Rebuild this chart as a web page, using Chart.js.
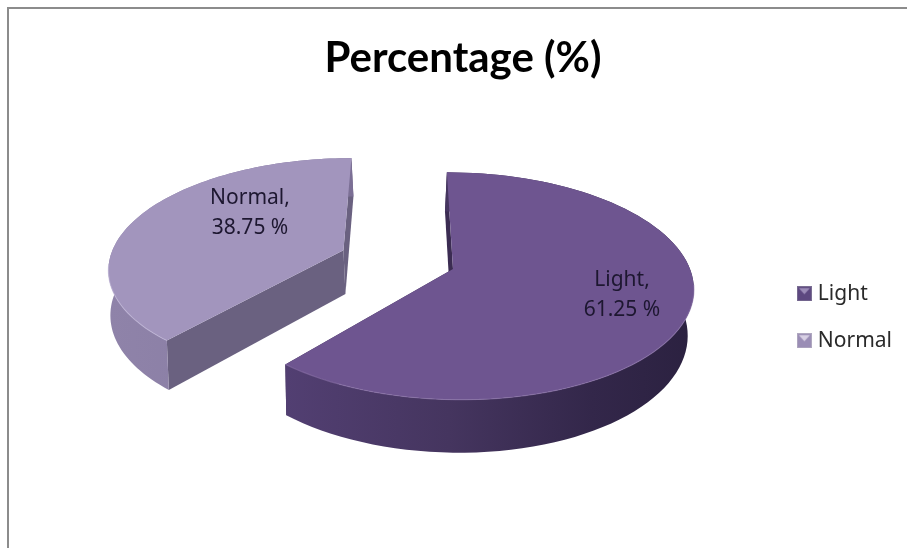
<!DOCTYPE html>
<html>
<head>
<meta charset="utf-8">
<title>Percentage (%)</title>
<script src="https://cdn.jsdelivr.net/npm/chart.js@4/dist/chart.umd.min.js"></script>
<style>
  html, body { margin: 0; background: #fff; overflow: hidden; }
  #frame { position: absolute; left: 7px; top: 7px; width: 900px; height: 541px;
           border-top: 2px solid #8c8c8c; border-left: 2px solid #8c8c8c; box-sizing: border-box; }
  #wrap { position: absolute; left: 0; top: 0; width: 907px; height: 548px; }
</style>
</head>
<body>
<div id="frame"></div>
<div id="wrap"><canvas id="pieChart"></canvas></div>
<script>
const categories = ['Light', 'Normal'];
const percentages = [61.25, 38.75];
const explode = [0, 0.5];
const topColors = ['#6e5590', '#a295bd'];
const labelColor = '#1d1730';

// ground-plane camera for the tilted pie
const view = { vx: 406, vy: -472, horizon: 741, tilt: 0.15, shift: 47, radius: 237, depth: 45 };

// where each data label sits on its slice, in pie radii from the slice centre
const labelSpots = [[0.683, 0.22], [-0.442, -0.38]];

// the side walls lean a little as they drop
const lean = [{ towards: 340, rate: 0.0175, nudge: 0 }, { towards: 0, rate: 0, nudge: 2 }];

const sideStyles = [
  { wall: [[0, '#523f72'], [0.4, '#45355f'], [0.75, '#33274a'], [1, '#2b2140']], cut: '#3b2c52', rim: '#8a72a8' },
  { wall: [[0, '#8f83a9'], [0.5, '#8a7ea5'], [1, '#7b6f95']], cut: '#6a6180', rim: '#c2b7d8' }
];

function project(X, Z) {
  const m = 1 / (1 - view.tilt * Z);
  return [view.vx + (view.shift + view.radius * X) * m, view.vy + view.horizon * m, m];
}

function dropped(p, i) {
  const l = lean[i];
  return [p[0] + (l.towards - p[0]) * l.rate + l.nudge, p[1] + view.depth * p[2]];
}

function tracePoly(ctx, pts) {
  ctx.beginPath();
  pts.forEach((p, i) => i ? ctx.lineTo(p[0], p[1]) : ctx.moveTo(p[0], p[1]));
  ctx.closePath();
}

function drawSlice(ctx, arc, i) {
  const { startAngle, endAngle } = arc.getProps(['startAngle', 'endAngle']);
  const mid = (startAngle + endAngle) / 2;
  const ox = Math.cos(mid) * explode[i];
  const oz = Math.sin(mid) * explode[i];
  const style = sideStyles[i];

  const steps = 90;
  const rimPts = [];
  for (let s = 0; s <= steps; s++) {
    const a = startAngle + (endAngle - startAngle) * s / steps;
    rimPts.push([ox + Math.cos(a), oz + Math.sin(a)]);
  }
  const top = rimPts.map(p => project(p[0], p[1]));
  const bottom = top.map(p => dropped(p, i));
  const centreTop = project(ox, oz);
  const centreBottom = dropped(centreTop, i);

  // two cut faces
  ctx.fillStyle = style.cut;
  tracePoly(ctx, [centreTop, top[0], bottom[0], centreBottom]);
  ctx.fill();
  tracePoly(ctx, [centreTop, top[steps], bottom[steps], centreBottom]);
  ctx.fill();

  // outer wall
  const xs = top.map(p => p[0]);
  const minX = Math.min(...xs), maxX = Math.max(...xs);
  const grad = ctx.createLinearGradient(minX, 0, maxX, 0);
  style.wall.forEach(s => grad.addColorStop(s[0], s[1]));
  ctx.fillStyle = grad;
  tracePoly(ctx, top.concat(bottom.slice().reverse()));
  ctx.fill();

  // top surface
  ctx.fillStyle = arc.options.backgroundColor;
  tracePoly(ctx, [centreTop].concat(top));
  ctx.fill();

  // soft highlight along the front of the rim
  ctx.save();
  ctx.globalAlpha = 0.6;
  ctx.strokeStyle = style.rim;
  ctx.lineWidth = 1.2;
  ctx.beginPath();
  let pen = false;
  rimPts.forEach((p, s) => {
    if (p[1] - oz > 0.12) {
      pen ? ctx.lineTo(top[s][0], top[s][1]) : ctx.moveTo(top[s][0], top[s][1]);
      pen = true;
    }
  });
  ctx.stroke();
  ctx.restore();

  // value label
  const spot = project(ox + labelSpots[i][0], oz + labelSpots[i][1]);
  ctx.fillStyle = labelColor;
  ctx.font = '21px "Noto Sans"';
  ctx.textAlign = 'center';
  ctx.textBaseline = 'middle';
  ctx.fillText(categories[i] + ',', spot[0], spot[1] - 14);
  ctx.fillText(percentages[i].toFixed(2) + ' %', spot[0], spot[1] + 16);
}

const pie3d = {
  id: 'pie3d',
  beforeDatasetsDraw(chart) {
    const ctx = chart.ctx;
    const arcs = chart.getDatasetMeta(0).data;
    ctx.save();
    for (let i = arcs.length - 1; i >= 0; i--) drawSlice(ctx, arcs[i], i);
    ctx.restore();
    return false;
  }
};

// little bevelled legend swatch
function legendSwatch(base, light, edge) {
  const c = document.createElement('canvas');
  c.width = 15;
  c.height = 15;
  const g = c.getContext('2d');
  g.fillStyle = edge;
  g.fillRect(0, 0, 15, 15);
  g.fillStyle = base;
  g.fillRect(1, 1, 13, 13);
  g.fillStyle = light;
  g.beginPath();
  g.moveTo(2, 2);
  g.lineTo(13, 2);
  g.lineTo(7.5, 8);
  g.closePath();
  g.fill();
  return c;
}
const swatches = [
  legendSwatch('#5d4880', '#9c8cb8', '#7a6e92'),
  legendSwatch('#9a8db5', '#d8d0e4', '#b0a8c0')
];

new Chart(document.getElementById('pieChart'), {
  type: 'pie',
  data: {
    labels: categories,
    datasets: [{ label: 'Percentage (%)', data: percentages, backgroundColor: topColors, borderWidth: 0 }]
  },
  plugins: [pie3d],
  options: {
    responsive: true,
    maintainAspectRatio: false,
    animation: false,
    layout: { padding: { left: 24, right: 5, top: 0, bottom: 0 } },
    plugins: {
      tooltip: { enabled: false },
      title: {
        display: true,
        text: 'Percentage (%)',
        color: '#000',
        font: { family: 'Lato', size: 42, weight: '700' },
        padding: { top: 33, bottom: 3 }
      },
      legend: {
        position: 'right',
        fullSize: false,
        labels: {
          usePointStyle: true,
          pointStyleWidth: 6,
          color: '#2a2a2a',
          font: { family: '"Noto Sans"', size: 21 },
          padding: 26,
          generateLabels: chart => chart.data.labels.map((text, i) => ({
            text, index: i, hidden: false, pointStyle: swatches[i], fontColor: '#2a2a2a'
          }))
        }
      }
    }
  }
});
</script>
</body>
</html>
